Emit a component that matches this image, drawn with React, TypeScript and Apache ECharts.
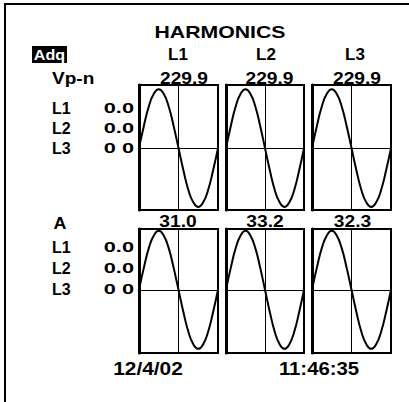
import React, { useEffect, useRef } from "react";
import * as echarts from "echarts";

const title = "HARMONICS";
const modeLabel = "Adq";
const columnHeaders = ["L1", "L2", "L3"];
const voltageLabel = "Vp-n";
const currentLabel = "A";
const voltageValues = ["229.9", "229.9", "229.9"];
const currentValues = ["31.0", "33.2", "32.3"];
const rowLabels = ["L1", "L2", "L3"];
const voltageHarmonics = ["0.0", "0.0", "0 0"];
const currentHarmonics = ["0.0", "0.0", "0 0"];
const dateText = "12/4/02";
const timeText = "11:46:35";

// waveform samples read from the display (one cycle, 17 samples)
const waveSamples = [0, 38, 71, 92, 100, 92, 71, 38, 0, -38, -71, -92, -100, -92, -71, -38, 0];

const FONT = "'Liberation Sans', Arial, sans-serif";

export default function App() {
  const ref = useRef<HTMLDivElement>(null);
  useEffect(() => {
    if (!ref.current) return;
    const chart = echarts.init(ref.current, null, { renderer: "svg" });

    const colLefts = [139, 226, 312];
    const colWidths = [79, 78, 79];
    const rowTops = [85, 229];
    const rowHeights = [125, 124];
    const yRanges = [
      [-105, 107],
      [-107, 103],
    ];

    const grids: any[] = [];
    const xAxes: any[] = [];
    const yAxes: any[] = [];
    const series: any[] = [];
    let idx = 0;
    for (let r = 0; r < 2; r++) {
      for (let c = 0; c < 3; c++) {
        grids.push({
          left: colLefts[c],
          top: rowTops[r],
          width: colWidths[c],
          height: rowHeights[r],
          show: true,
          borderColor: "#000",
          borderWidth: 2,
          backgroundColor: "#fff",
        });
        xAxes.push({
          type: "value",
          gridIndex: idx,
          min: 0,
          max: waveSamples.length - 1,
          interval: (waveSamples.length - 1) / 2,
          axisLine: { show: true, onZero: true, lineStyle: { color: "#000", width: 1 } },
          axisTick: { show: false },
          axisLabel: { show: false },
          splitLine: { show: true, lineStyle: { color: "#000", width: 1 } },
        });
        yAxes.push({
          type: "value",
          gridIndex: idx,
          min: yRanges[r][0],
          max: yRanges[r][1],
          axisLine: { show: true, onZero: false, lineStyle: { color: "#000", width: 3 } },
          axisTick: { show: false },
          axisLabel: { show: false },
          splitLine: { show: false },
        });
        series.push({
          type: "line",
          xAxisIndex: idx,
          yAxisIndex: idx,
          data: waveSamples.map((v, i) => [i, v]),
          smooth: true,
          showSymbol: false,
          lineStyle: { color: "#000", width: 2 },
        });
        idx++;
      }
    }

    const txt = (
      text: string,
      x: number,
      y: number,
      size: number,
      align: string,
      scaleX: number,
      weight = "bold",
      fill = "#000"
    ) => ({
      type: "text",
      x,
      y,
      scaleX,
      z: 10,
      style: {
        text,
        x: 0,
        y: 0,
        fill,
        font: `${weight} ${size}px ${FONT}`,
        align,
        verticalAlign: "middle",
      },
    });

    const graphics: any[] = [
      { type: "line", shape: { x1: 4, y1: 4, x2: 409, y2: 4 }, style: { stroke: "#000", lineWidth: 2 } },
      { type: "line", shape: { x1: 5, y1: 3, x2: 5, y2: 402 }, style: { stroke: "#000", lineWidth: 2 } },
      txt(title, 220, 32, 17, "center", 1.25),
      { type: "rect", shape: { x: 32, y: 46, width: 35, height: 17 }, style: { fill: "#000" } },
      txt(modeLabel, 49.5, 54.5, 14, "center", 1.15, "bold", "#fff"),
      txt(voltageLabel, 52, 78, 17, "left", 1.12),
      txt(currentLabel, 60, 223, 17, "center", 1.05),
      txt(dateText, 148, 369, 18, "center", 1.16),
      txt(timeText, 319, 369, 18, "center", 1.13),
    ];
    const headerCenters = [178, 266, 355];
    columnHeaders.forEach((h, i) => graphics.push(txt(h, headerCenters[i], 54, 17, "center", 1.0)));
    const voltCenters = [184, 269.5, 357];
    voltageValues.forEach((v, i) => graphics.push(txt(v, voltCenters[i], 79, 16, "center", 1.2)));
    const currCenters = [178, 265, 352.5];
    currentValues.forEach((v, i) => graphics.push(txt(v, currCenters[i], 221.5, 16, "center", 1.2)));
    const topRows = [108, 128, 148];
    const botRows = [247, 268, 289];
    rowLabels.forEach((l, i) => {
      graphics.push(txt(l, 52, topRows[i], 16, "left", 1.0));
      graphics.push(txt(l, 52, botRows[i], 16, "left", 1.0));
      graphics.push(txt(voltageHarmonics[i], 134, topRows[i], 15, "right", 1.45));
      graphics.push(txt(currentHarmonics[i], 134, botRows[i], 15, "right", 1.45));
    });

    chart.setOption({
      animation: false,
      backgroundColor: "#fff",
      grid: grids,
      xAxis: xAxes,
      yAxis: yAxes,
      series,
      graphic: graphics,
    });
    return () => chart.dispose();
  }, []);
  return (
    <div
      ref={ref}
      style={{ position: "absolute", left: 0, top: 0, width: 409, height: 402 }}
    />
  );
}
